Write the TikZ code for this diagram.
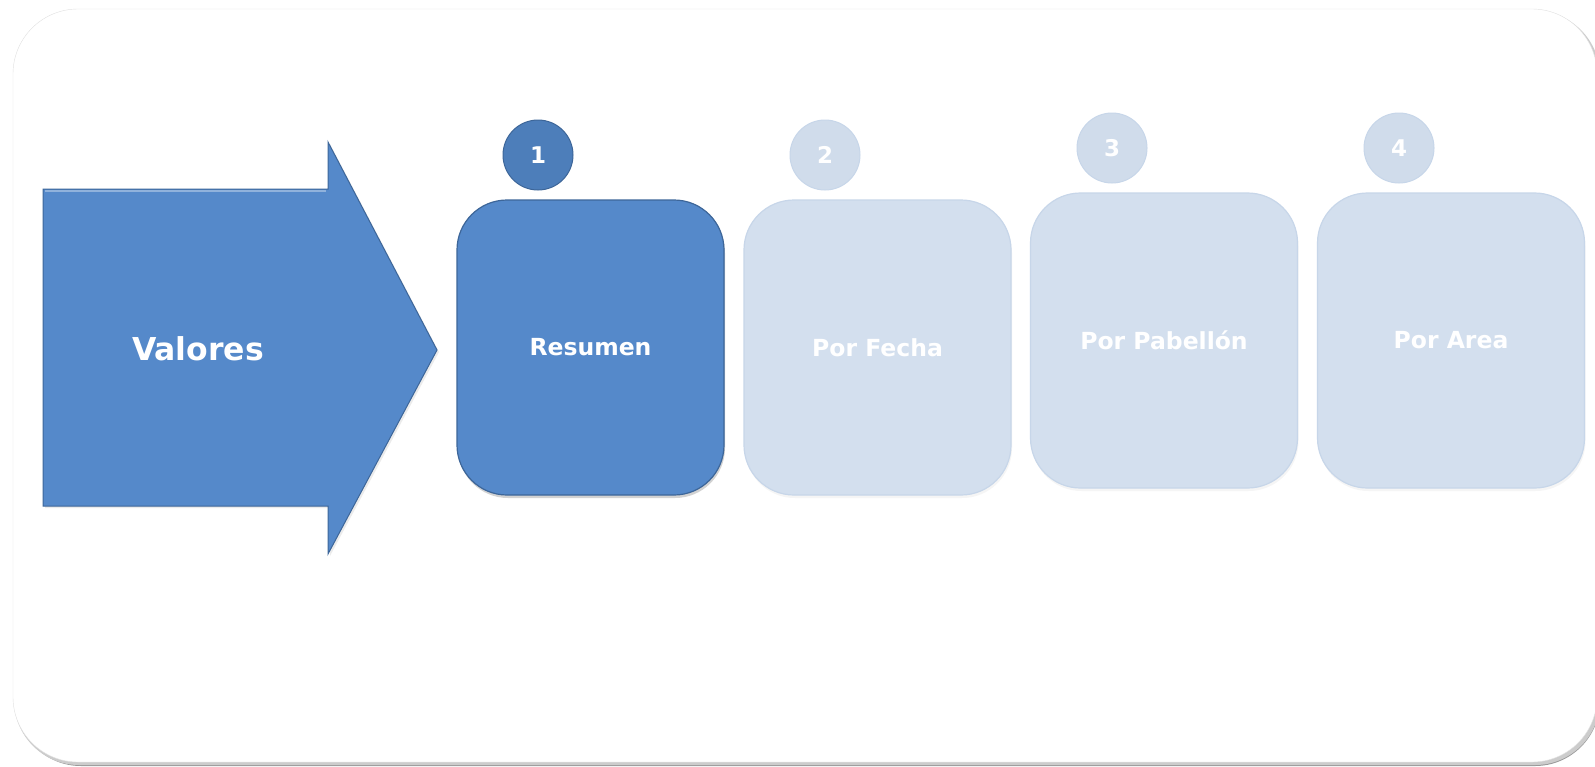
\documentclass[tikz,border=0pt]{standalone}
\usepackage{fontspec}
\setmainfont{DejaVu Sans}
\usepackage{xcolor}
\usepackage{tikz}
\usetikzlibrary{shadows}

\definecolor{stepblue}{HTML}{5589CA}
\definecolor{stepedge}{HTML}{3D6699}
\definecolor{numblue}{HTML}{4D7EBA}
\definecolor{paleblue}{HTML}{D3DFEE}
\definecolor{paleedge}{HTML}{C7D6E9}
\definecolor{palenum}{HTML}{D0DCEB}

\begin{document}
\begin{tikzpicture}[x=1pt,y=-1pt,
  box/.style={rounded corners=50pt,minimum width=267pt,minimum height=295pt,
    text=white,font=\bfseries\fontsize{23.5}{28}\selectfont,line width=1.2pt},
  boxon/.style={box,fill=stepblue,draw=stepedge,
    drop shadow={shadow xshift=1pt,shadow yshift=-3pt,opacity=.35}},
  boxoff/.style={box,fill=paleblue,draw=paleedge,
    drop shadow={shadow xshift=1pt,shadow yshift=-3pt,opacity=.08}},
  num/.style={circle,minimum size=70pt,inner sep=0pt,line width=1pt,
    text=white,font=\bfseries\fontsize{23}{27}\selectfont},
  numon/.style={num,fill=numblue,draw=stepedge},
  numoff/.style={num,fill=palenum,draw=paleedge}]
  \useasboundingbox (0,0) rectangle (1595,766);
  % frame
  \fill[black!40,rounded corners=65pt] (16,13) rectangle (1600,766);
  \fill[black!20,rounded corners=65pt] (14,11) rectangle (1600,765);
  \draw[black!12,fill=white,rounded corners=65pt] (13,9) rectangle (1597,762);
  % big arrow
  \fill[black!25,opacity=.3] (45,191) -- (330,191) -- (330,144) -- (439,352)
    -- (330,556) -- (330,508) -- (45,508) -- cycle;
  \draw[stepedge,fill=stepblue,line width=1pt] (43,189) -- (328,189)
    -- (328,142) -- (437,350) -- (328,554) -- (328,506) -- (43,506) -- cycle;
  \draw[white,opacity=.35,line width=2pt] (45,191) -- (326,191);
  \node[text=white,font=\bfseries\fontsize{31.5}{36}\selectfont]
    (valores) at (198,349) {Valores};
  % steps
  \node[boxon]  (resumen)  at (590.5,347.5)  {Resumen};
  \node[boxoff] (fecha)    at (877.5,347.5)  {Por Fecha};
  \node[boxoff] (pabellon) at (1164,340.5)   {Por Pabellón};
  \node[boxoff] (area)     at (1451,340.5)   {Por Area};
  % numbers
  \node[numon]  (n1) at (538,155)  {1};
  \node[numoff] (n2) at (825,155)  {2};
  \node[numoff] (n3) at (1112,148) {3};
  \node[numoff] (n4) at (1399,148) {4};
\end{tikzpicture}
\end{document}
